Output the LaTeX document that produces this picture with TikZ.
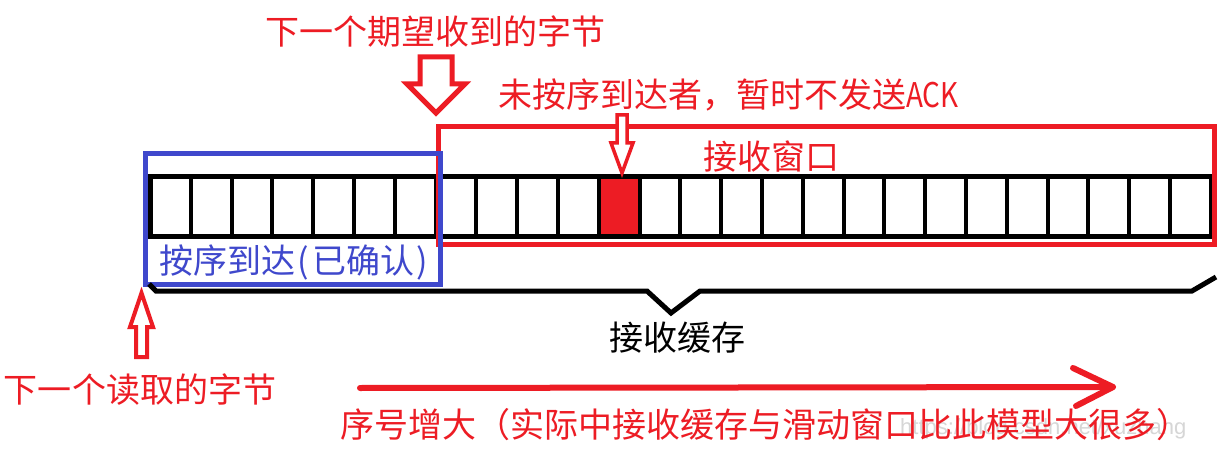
\documentclass[tikz,border=0pt]{standalone}
\usepackage{fontspec}
\setmainfont{Noto Sans CJK SC}
\newfontfamily\wmfont{Liberation Sans}
\definecolor{pred}{RGB}{237,28,36}
\definecolor{pblue}{RGB}{63,72,204}
\newcommand{\hwparen}[1]{\makebox[17pt]{#1}}
\begin{document}
\begin{tikzpicture}[x=1pt,y=-1pt,
  lbl/.style={inner sep=0pt, font=\fontsize{34}{40}\selectfont},
  redtxt/.style={lbl, text=pred},
  hollow/.style={draw=pred, fill=white, line join=miter},
  cellline/.style={line width=4pt},
  frame/.style={line width=5pt},
  brace/.style={line width=5pt, line join=miter},
  seqarrow/.style={draw=pred, line width=6pt, line cap=round, line join=round}]
\useasboundingbox[fill=white] (0,0) rectangle (1231,449);

% watermark
\node[anchor=west, inner sep=0pt, text=black!16, font=\wmfont\fontsize{22}{24}\selectfont] (wm) at (900,429) {https://blog.csdn.net/xuzhang};

% buffer strip
\fill[pred] (598.8,176.5) rectangle (639.6,236.5);
\foreach \k in {1,...,25}
  \draw[cellline] ({150+40.8*\k},176.5) -- ({150+40.8*\k},236.5);
\draw[frame] (150,176.5) rectangle (1211,236.5);

% receive window (red) and acknowledged part (blue)
\draw[frame, pred] (438,127) rectangle (1214,244);
\draw[frame, pblue] (145,154) rectangle (440,284);

% brace of the receive buffer
\draw[brace] (149,284) -- (156,291) -- (647,291) -- (671,313) -- (700,291) -- (1192,291) -- (1216,277);

% hollow arrows
\draw[hollow, line width=5pt] (420,57) -- (452,57) -- (452,84) -- (465,84) -- (436,113) -- (407,84) -- (420,84) -- cycle;
\draw[hollow, line width=3.5pt] (617,115) -- (627,115) -- (627,143) -- (633,143) -- (622,173) -- (611,143) -- (617,143) -- cycle;
\draw[hollow, line width=4pt] (141.5,293) -- (153,327) -- (147,327) -- (147,357) -- (136,357) -- (136,327) -- (130,327) -- cycle;

% sequence number arrow
\coordinate (s0) at (360,388);
\coordinate (s1) at (1113,387);
\draw[seqarrow] (s0) -- (s1);
\draw[seqarrow] (1073,368) -- (s1) -- (1076,406);

% labels
\node[redtxt] (t1) at (435,32) {下一个期望收到的字节};
\node[redtxt, anchor=west] (t2) at (498,95) {未按序到达者，暂时不发送\scalebox{0.82}[1]{ACK}};
\node[redtxt] (t3) at (771,157) {接收窗口};
\node[lbl, text=pblue] (t4) at (295,262) {按序到达\hwparen{(}已确认\hwparen{)}};
\node[lbl] (t5) at (677,338) {接收缓存};
\node[redtxt] (t6) at (140,390) {下一个读取的字节};
\node[redtxt, anchor=west] (t7) at (340,425) {序号增大（实际中接收缓存与滑动窗口比此模型大很多）};
\end{tikzpicture}
\end{document}
